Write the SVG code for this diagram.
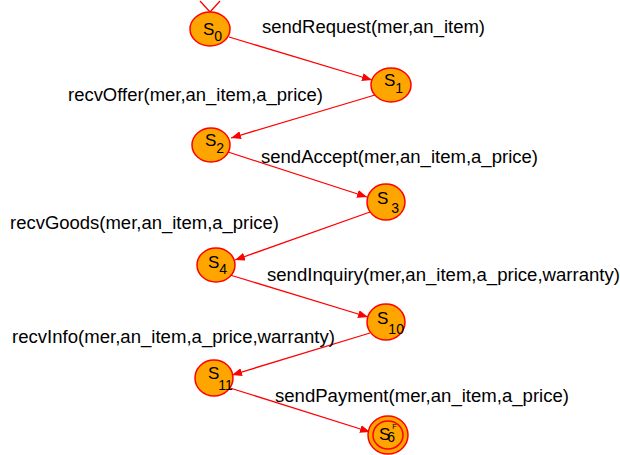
<svg xmlns="http://www.w3.org/2000/svg" width="620" height="455" viewBox="0 0 620 455">
<style>
.st{fill:#ffa500;stroke:#ff0000;stroke-width:1.5}
.lbl{font-family:"Liberation Sans",Arial,sans-serif;font-size:17px;fill:#000}
.sub{font-size:14px}
.el{font-family:"Liberation Sans",Arial,sans-serif;font-size:17.5px;fill:#000}
.e{stroke:#ff0000;stroke-width:1.3;fill:none;marker-end:url(#ah)}
</style>
<defs>
<marker id="ah" viewBox="0 0 10 8" refX="10" refY="4" markerWidth="10" markerHeight="8" markerUnits="userSpaceOnUse" orient="auto">
<path d="M0,0 L10,4 L0,8 Z" fill="#ff0000"/>
</marker>
</defs>
<rect width="620" height="455" fill="#fff"/>
<g id="edges">
<path d="M200,1 L210,12 L220,1" stroke="#ff0000" stroke-width="1.3" fill="none"/>
<line class="e" x1="229" y1="37" x2="372" y2="80"/>
<line class="e" x1="375" y1="95" x2="231" y2="138"/>
<line class="e" x1="228" y1="152" x2="367" y2="197"/>
<line class="e" x1="370" y1="212" x2="235" y2="260"/>
<line class="e" x1="230" y1="275" x2="368" y2="317"/>
<line class="e" x1="370" y1="333" x2="232" y2="375"/>
<line class="e" x1="230" y1="388" x2="370" y2="432"/>
<text class="el" x="262" y="33" textLength="223" lengthAdjust="spacingAndGlyphs">sendRequest(mer,an_item)</text>
<text class="el" x="68" y="101" textLength="255" lengthAdjust="spacingAndGlyphs">recvOffer(mer,an_item,a_price)</text>
<text class="el" x="261" y="163" textLength="277" lengthAdjust="spacingAndGlyphs">sendAccept(mer,an_item,a_price)</text>
<text class="el" x="10" y="229" textLength="269" lengthAdjust="spacingAndGlyphs">recvGoods(mer,an_item,a_price)</text>
<text class="el" x="267" y="281" textLength="353" lengthAdjust="spacingAndGlyphs">sendInquiry(mer,an_item,a_price,warranty)</text>
<text class="el" x="12" y="343" textLength="323" lengthAdjust="spacingAndGlyphs">recvInfo(mer,an_item,a_price,warranty)</text>
<text class="el" x="275" y="402" textLength="294" lengthAdjust="spacingAndGlyphs">sendPayment(mer,an_item,a_price)</text>
</g>
<g id="s0"><ellipse class="st" cx="210" cy="29" rx="20" ry="17"/><text class="lbl" x="203" y="35">S<tspan class="sub" dy="6">0</tspan></text></g>
<g id="s1"><ellipse class="st" cx="391" cy="85" rx="20" ry="17"/><text class="lbl" x="384" y="86">S<tspan class="sub" dy="7">1</tspan></text></g>
<g id="s2"><ellipse class="st" cx="211" cy="145" rx="19" ry="17"/><text class="lbl" x="205" y="146">S<tspan class="sub" dy="7">2</tspan></text></g>
<g id="s3"><ellipse class="st" cx="386" cy="202" rx="19" ry="18"/><text class="lbl" x="377" y="204">S<tspan class="sub" dx="3" dy="9">3</tspan></text></g>
<g id="s4"><ellipse class="st" cx="216" cy="265" rx="19" ry="17"/><text class="lbl" x="208" y="268">S<tspan class="sub" dy="6">4</tspan></text></g>
<g id="s10"><ellipse class="st" cx="386" cy="322" rx="19" ry="18"/><text class="lbl" x="377" y="324">S<tspan class="sub" dy="10">10</tspan></text></g>
<g id="s11"><ellipse class="st" cx="214" cy="378" rx="19" ry="18"/><text class="lbl" x="208" y="379">S<tspan class="sub" dx="-1" dy="11">11</tspan></text></g>
<g id="s6"><ellipse class="st" cx="388" cy="435" rx="20" ry="19"/><ellipse cx="388" cy="435" rx="15" ry="14" fill="none" stroke="#ff0000" stroke-width="1.5"/><text class="lbl" x="379" y="440">S<tspan class="sub" dx="-3" dy="2">6</tspan><tspan font-size="7" dx="-3" dy="-13">F</tspan></text></g>
</svg>
